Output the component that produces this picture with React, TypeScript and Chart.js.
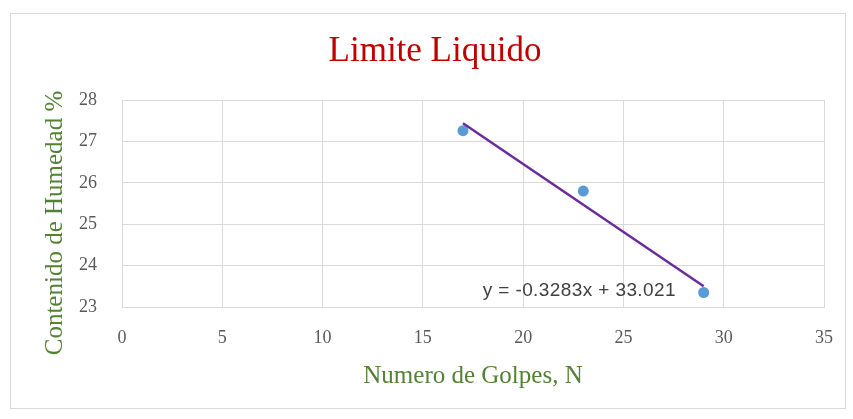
import React, { useEffect, useRef } from "react";
import { Chart, registerables } from "chart.js";

Chart.register(...registerables);

// ---- data ----
const golpes = [17, 23, 29];
const humedad = [27.26, 25.8, 23.35];
const trendX = [17, 29];
const trendY = [27.44, 23.5];
const xTickValues = [0, 5, 10, 15, 20, 25, 30, 35];
const yTickValues = [23, 24, 25, 26, 27, 28];
const chartTitle = "Limite Liquido";
const xTitle = "Numero de Golpes, N";
const yTitle = "Contenido de Humedad %";
const equationText = "y = -0.3283x + 33.021";
const equationAt = [22.8, 23.39];

const SERIF = "'Liberation Serif', 'Times New Roman', serif";
const SANS = "'Liberation Sans', Arial, sans-serif";
const GRID = "#d9d9d9";
const TITLE_GREEN = "#548235";

const decorPlugin = {
  id: "decor",
  beforeDraw(chart: any) {
    const { ctx, width, height } = chart;
    ctx.save();
    ctx.fillStyle = "#ffffff";
    ctx.fillRect(0, 0, width, height);
    ctx.strokeStyle = GRID;
    ctx.lineWidth = 1;
    ctx.strokeRect(10.5, 13.5, 835, 395);
    ctx.restore();
  },
  afterDatasetsDraw(chart: any) {
    const { ctx, scales } = chart;
    const px = scales.x.getPixelForValue(equationAt[0]);
    const py = scales.y.getPixelForValue(equationAt[1]);
    ctx.save();
    ctx.font = `19px ${SANS}`;
    (ctx as any).letterSpacing = "0.4px";
    ctx.fillStyle = "#404040";
    ctx.textAlign = "center";
    ctx.textBaseline = "middle";
    ctx.fillText(equationText, px, py);
    ctx.restore();
  },
  afterDraw(chart: any) {
    const { ctx } = chart;
    ctx.save();
    // chart title
    ctx.font = `35px ${SERIF}`;
    ctx.fillStyle = "#C00000";
    ctx.textAlign = "center";
    ctx.textBaseline = "middle";
    ctx.fillText(chartTitle, 435, 52);
    // y axis title
    ctx.translate(55, 223);
    ctx.rotate(-Math.PI / 2);
    ctx.font = `25px ${SERIF}`;
    ctx.fillStyle = TITLE_GREEN;
    ctx.fillText(yTitle, 0, 0);
    ctx.restore();
  },
};

export default function App() {
  const ref = useRef<HTMLCanvasElement | null>(null);

  useEffect(() => {
    if (!ref.current) return;
    const chart = new Chart(ref.current, {
      type: "scatter",
      data: {
        datasets: [
          {
            label: "Tendencia",
            data: trendX.map((x, i) => ({ x, y: trendY[i] })),
            showLine: true,
            borderColor: "#6A2C9A",
            backgroundColor: "#6A2C9A",
            borderWidth: 2.5,
            pointRadius: 0,
          },
          {
            label: "Datos",
            data: golpes.map((x, i) => ({ x, y: humedad[i] })),
            backgroundColor: "#5B9BD5",
            borderColor: "#5B9BD5",
            pointRadius: 5.5,
            pointBorderWidth: 0,
          },
        ],
      },
      options: {
        responsive: false,
        animation: false,
        layout: { padding: { left: 0, right: 26, top: 100, bottom: 0 } },
        plugins: {
          legend: { display: false },
          tooltip: { enabled: false },
          title: { display: false },
        },
        scales: {
          x: {
            type: "linear",
            min: xTickValues[0],
            max: xTickValues[xTickValues.length - 1],
            afterBuildTicks: (scale: any) => {
              scale.ticks = xTickValues.map((v) => ({ value: v }));
            },
            afterFit: (scale: any) => {
              scale.height = 112;
            },
            grid: { color: GRID, drawTicks: false },
            border: { color: GRID },
            ticks: {
              color: "#595959",
              padding: 20,
              font: { family: SERIF, size: 18 },
            },
            title: {
              display: true,
              text: xTitle,
              color: TITLE_GREEN,
              font: { family: SERIF, size: 25 },
              padding: { top: 0, bottom: 28 },
            },
          },
          y: {
            type: "linear",
            min: yTickValues[0],
            max: yTickValues[yTickValues.length - 1],
            afterBuildTicks: (scale: any) => {
              scale.ticks = yTickValues.map((v) => ({ value: v }));
            },
            afterFit: (scale: any) => {
              scale.width = 122;
            },
            grid: { color: GRID, drawTicks: false },
            border: { color: GRID },
            ticks: {
              color: "#595959",
              padding: 25,
              font: { family: SERIF, size: 18 },
            },
            title: { display: false },
          },
        },
      },
      plugins: [decorPlugin],
    });
    return () => chart.destroy();
  }, []);

  return (
    <div style={{ position: "absolute", left: 0, top: 0, width: 853, height: 419 }}>
      <canvas ref={ref} width={853} height={419} style={{ width: 853, height: 419 }} />
    </div>
  );
}
